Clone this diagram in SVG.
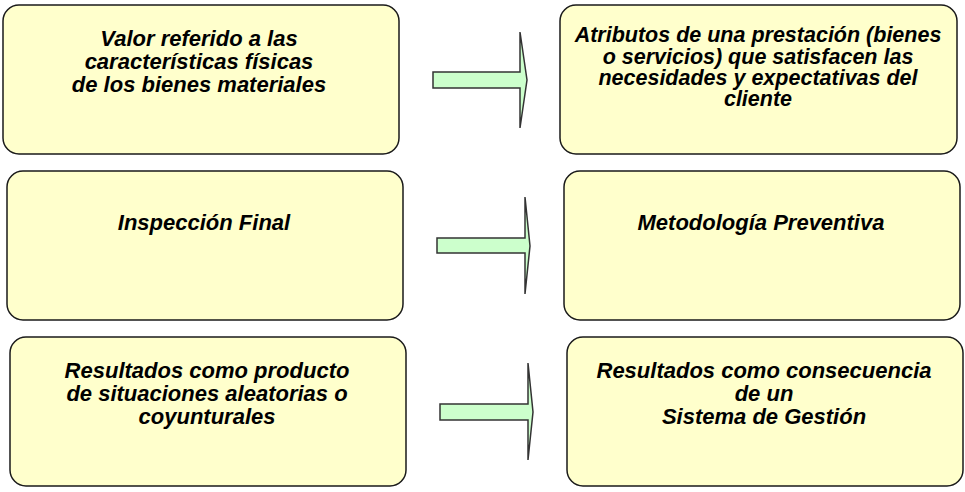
<svg xmlns="http://www.w3.org/2000/svg" width="965" height="492" viewBox="0 0 965 492">
<style>
.box{fill:#ffffcc;stroke:#1a1a1a;stroke-width:1.5}
.arr{fill:#ccffcc;stroke:#333333;stroke-width:1.5;stroke-linejoin:miter}
text{font-family:"Liberation Sans",Arial,sans-serif;font-size:22px;font-weight:bold;font-style:italic;fill:#000;text-anchor:middle}
.t{font-size:21.5px}
</style>
<rect width="965" height="492" fill="#ffffff"/>
<g id="n1"><rect class="box" x="3" y="5" width="396" height="149" rx="16"/>
<text x="199" y="46">Valor referido a las</text><text x="199" y="69">características físicas</text><text x="199" y="92">de los bienes materiales</text></g>
<g id="n2"><rect class="box" x="560" y="5" width="397" height="149" rx="16"/>
<text class="t" x="758" y="42">Atributos de una prestación (bienes</text><text class="t" x="758" y="63.5">o servicios) que satisfacen las</text><text class="t" x="758" y="85">necesidades y expectativas del</text><text class="t" x="758" y="106">cliente</text></g>
<g id="n3"><rect class="box" x="7" y="171" width="396" height="149" rx="16"/>
<text x="204" y="230">Inspección Final</text></g>
<g id="n4"><rect class="box" x="564" y="171" width="396" height="149" rx="16"/>
<text x="761" y="230">Metodología Preventiva</text></g>
<g id="n5"><rect class="box" x="10" y="337" width="396" height="149" rx="16"/>
<text x="207" y="378">Resultados como producto</text><text x="207" y="401">de situaciones aleatorias o</text><text x="207" y="424">coyunturales</text></g>
<g id="n6"><rect class="box" x="567" y="337" width="396" height="149" rx="16"/>
<text x="764" y="378">Resultados como consecuencia</text><text x="764" y="401">de un</text><text x="764" y="424">Sistema de Gestión</text></g>
<g id="connectors">
<path class="arr" d="M433,72 H520 V32 L527,80 L520,128 V88 H433 Z"/>
<path class="arr" d="M437,238 H525 V197 L530,246 L525,294 V253 H437 Z"/>
<path class="arr" d="M440,404 H528 V363 L533,412 L528,460 V420 H440 Z"/>
</g>
</svg>
